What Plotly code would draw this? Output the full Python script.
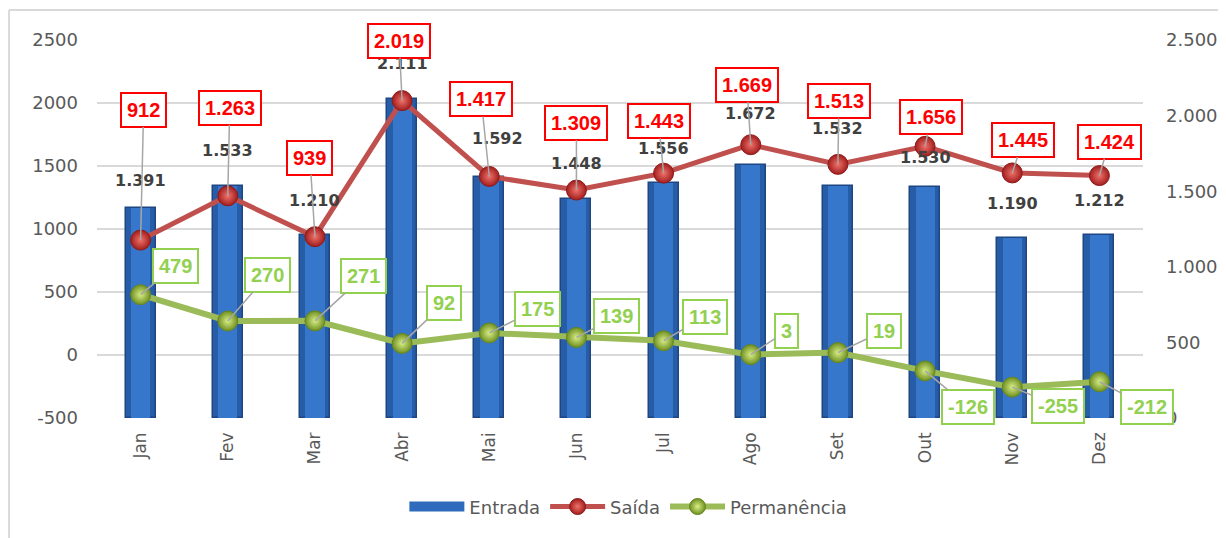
"""
Entrada / Saída / Permanência - monthly chart
"""
import plotly.graph_objects as go

# Data
months = ["Jan", "Fev", "Mar", "Abr", "Mai", "Jun", "Jul", "Ago", "Set", "Out", "Nov", "Dez"]
entrada = [1391, 1533, 1210, 2111, 1592, 1448, 1556, 1672, 1532, 1530, 1190, 1212]
saida = [912, 1263, 939, 2019, 1417, 1309, 1443, 1669, 1513, 1656, 1445, 1424]
permanencia = [479, 270, 271, 92, 175, 139, 113, 3, 19, -126, -255, -212]

left_ticks = [-500, 0, 500, 1000, 1500, 2000, 2500]


def fmt(v):
    # thousands separator as dot (pt-BR)
    return f"{v:,}".replace(",", ".")


# Label placement (pixel offsets from the data point)
bar_label_shift = [16, 24, 23, 24, 27, 24, 23, 40, 46, 18, 23, 23]
bar_label_xshift = [0, 0, 0, 0, 8, 0, 0, 0, 0, 0, 0, 0]
saida_offsets = [(3, -130), (2, -88), (-5, -79), (-3, -60), (-8, -77), (0, -67),
                 (-5, -52), (-4, -60), (1, -63), (6, -29), (11, -33), (10, -34)]
perm_offsets = [(35, -29), (40, -46), (49, -45), (42, -40), (48, -24), (40, -21),
                (41, -24), (36, -24), (46, -22), (43, 36), (46, 19), (48, 25)]

AXIS_GRAY = "#595959"
GRID = "#d9d9d9"
LEADER = "#a6a6a6"

fig = go.Figure()

# Bars (right axis) - dark body plus a lighter core for a bit of depth
fig.add_trace(go.Bar(
    x=months, y=entrada, yaxis="y", name="Entrada",
    width=0.345, showlegend=False,
    marker=dict(color="#275ca6", line=dict(color="#1d4682", width=1.5)),
))
fig.add_trace(go.Bar(
    x=months, y=entrada, yaxis="y", name="Entrada",
    width=0.22, showlegend=False,
    marker=dict(color="#3677cc", line=dict(width=0)),
))

# Legend-only entry so the bar swatch is a wide flat rectangle like Excel's
fig.add_trace(go.Scatter(
    x=months[:1], y=[None], yaxis="y", name="Entrada", mode="lines",
    line=dict(color="#2f6bbd", width=10), legendrank=1,
))

# Saída line (left axis, overlaid on top of the bars)
fig.add_trace(go.Scatter(
    x=months, y=saida, yaxis="y2", name="Saída", mode="lines+markers",
    line=dict(color="#c0504d", width=5), legendrank=2,
    marker=dict(size=20, color="#a11d1d",
                gradient=dict(type="radial", color="#f0736b"),
                line=dict(color="#8e1b1b", width=1)),
))

# Permanência line
fig.add_trace(go.Scatter(
    x=months, y=permanencia, yaxis="y2", name="Permanência", mode="lines+markers",
    line=dict(color="#9bbb59", width=6), legendrank=3,
    marker=dict(size=20, color="#6f8f22",
                gradient=dict(type="radial", color="#d8ef85"),
                line=dict(color="#66851f", width=1)),
))

annotations = []

# Entrada labels
for i, m in enumerate(months):
    annotations.append(dict(
        x=m, y=entrada[i], xref="x", yref="y",
        text=f"<b>{fmt(entrada[i])}</b>", showarrow=False,
        yshift=bar_label_shift[i], xshift=bar_label_xshift[i],
        yanchor="bottom",
        font=dict(family="DejaVu Sans", size=16, color="#404040"),
    ))

# Saída labels (red boxes with leader lines)
for i, m in enumerate(months):
    ax, ay = saida_offsets[i]
    annotations.append(dict(
        x=m, y=saida[i], xref="x", yref="y2",
        text=f"<b>{fmt(saida[i])}</b>", showarrow=True,
        ax=ax, ay=ay, arrowhead=0, arrowwidth=1.5, arrowcolor=LEADER,
        standoff=0,
        bgcolor="white", bordercolor="#ff0000", borderwidth=2, borderpad=5,
        font=dict(family="Liberation Sans", size=20, color="#ff0000"),
    ))

# Permanência labels (green boxes)
for i, m in enumerate(months):
    ax, ay = perm_offsets[i]
    annotations.append(dict(
        x=m, y=permanencia[i], xref="x", yref="y2",
        text=f"<b>{fmt(permanencia[i])}</b>", showarrow=True,
        ax=ax, ay=ay, arrowhead=0, arrowwidth=1.5, arrowcolor=LEADER,
        standoff=0,
        bgcolor="white", bordercolor="#92d050", borderwidth=2, borderpad=5,
        font=dict(family="Liberation Sans", size=20, color="#92d050"),
    ))

fig.update_layout(
    width=1226, height=538,
    # page body has an 8px margin, so the figure is nudged up/left to compensate
    margin=dict(l=89, r=91, t=32, b=128),
    paper_bgcolor="white", plot_bgcolor="white",
    separators=",.",
    barmode="overlay",
    bargap=0,
    font=dict(family="DejaVu Sans", size=18, color=AXIS_GRAY),
    xaxis=dict(
        type="category", categoryorder="array", categoryarray=months,
        range=[-0.5, len(months) - 0.5],
        tickangle=-90, showgrid=False, showline=False, ticks="",
        tickfont=dict(size=17, color=AXIS_GRAY),
        ticklabelstandoff=10, automargin=False,
    ),
    yaxis=dict(
        range=[0, 2500], dtick=500, tickformat=",d", side="right",
        showgrid=False, zeroline=False, showline=False, ticks="",
        tickfont=dict(size=18, color=AXIS_GRAY),
        ticklabelstandoff=22, automargin=False,
    ),
    yaxis2=dict(
        range=[-500, 2500], overlaying="y", side="left",
        tickvals=left_ticks, ticktext=[str(t) for t in left_ticks],
        showgrid=True, gridcolor=GRID, gridwidth=1.5,
        zeroline=False, showline=False, ticks="",
        tickfont=dict(size=18, color=AXIS_GRAY),
        ticklabelstandoff=18, automargin=False,
    ),
    legend=dict(
        orientation="h", x=0.508, xanchor="center", y=-0.235, yanchor="middle",
        font=dict(family="DejaVu Sans", size=18, color=AXIS_GRAY),
        itemwidth=55, bgcolor="rgba(0,0,0,0)",
    ),
    annotations=annotations,
    shapes=[
        dict(type="line", xref="paper", yref="paper", x0=-0.0841, x1=-0.0841,
             y0=1.0794, y1=-0.33, line=dict(color=GRID, width=2)),
        dict(type="line", xref="paper", yref="paper", x0=-0.0841, x1=1.09,
             y0=1.0794, y1=1.0794, line=dict(color=GRID, width=2)),
    ],
    showlegend=True,
)

fig.write_html("out.html")
